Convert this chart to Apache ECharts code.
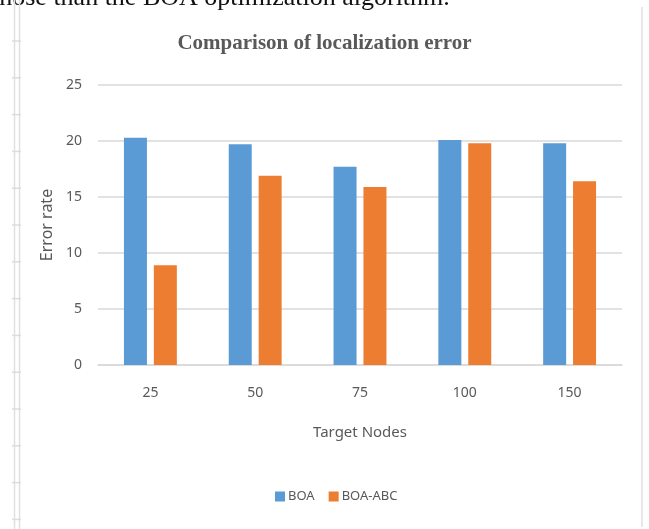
<!DOCTYPE html>
<html>
<head>
<meta charset="utf-8">
<script src="https://cdn.jsdelivr.net/npm/echarts@6/dist/echarts.min.js"></script>
<style>
    html, body { margin: 0; padding: 0; background: #fff; }
    #chart { width: 649px; height: 529px; }
</style>
</head>
<body>
<div id="chart"></div>
<script>
// 数据
const categories = ['25', '50', '75', '100', '150']
const boaValues = [20.3, 19.7, 17.7, 20.1, 19.8]
const boaAbcValues = [8.9, 16.9, 15.9, 19.8, 16.4]
const seriesNames = ['BOA', 'BOA-ABC']

const textGray = '#595959'
const gridGray = '#d9d9d9'
const sansFont = 'Noto Sans'

// 左侧页面标尺 (装饰)
const rulerMarks = []
for (let i = 0; i < 14; i++) {
    rulerMarks.push({
        type: 'line',
        shape: { x1: 12, y1: 41 + i * 36.8, x2: 21, y2: 41 + i * 36.8 },
        style: { stroke: '#dcdcdc', lineWidth: 1.5 }
    })
}

const chart = echarts.init(document.getElementById('chart'))

const option = {
    backgroundColor: '#fff',
    animation: false,
    title: {
        text: 'Comparison of localization error',
        left: 'center',
        top: 28,
        textStyle: {
            fontFamily: 'Liberation Serif',
            fontWeight: 'bold',
            fontSize: 21,
            color: textGray
        }
    },
    legend: {
        data: seriesNames,
        left: 270,
        top: 485,
        icon: 'rect',
        itemWidth: 10,
        itemHeight: 10,
        itemGap: 14,
        textStyle: { fontFamily: sansFont, fontSize: 13, color: textGray, padding: [0, 0, 0, -2] }
    },
    grid: {
        left: 98,
        right: 27,
        top: 85,
        bottom: 164
    },
    xAxis: {
        type: 'category',
        data: categories,
        name: 'Target Nodes',
        nameLocation: 'middle',
        nameGap: 60,
        nameTextStyle: { fontFamily: sansFont, fontSize: 15, color: textGray },
        axisLine: { lineStyle: { color: gridGray, width: 1.5 } },
        axisTick: { show: false },
        axisLabel: { margin: 21, fontFamily: sansFont, fontSize: 14, color: textGray }
    },
    yAxis: {
        type: 'value',
        min: 0,
        max: 25,
        interval: 5,
        name: 'Error rate',
        nameLocation: 'middle',
        nameGap: 42,
        nameTextStyle: { fontFamily: sansFont, fontSize: 16, color: textGray },
        axisLine: { show: false },
        axisTick: { show: false },
        axisLabel: { margin: 16, fontFamily: sansFont, fontSize: 14, color: textGray },
        splitLine: { lineStyle: { color: gridGray, width: 1.5 } }
    },
    series: [
        {
            name: seriesNames[0],
            type: 'bar',
            data: boaValues,
            barWidth: 23,
            barGap: '30%',
            itemStyle: { color: '#5b9bd5' }
        },
        {
            name: seriesNames[1],
            type: 'bar',
            data: boaAbcValues,
            barWidth: 23,
            barGap: '30%',
            itemStyle: { color: '#ed7d31' }
        }
    ],
    graphic: [
        // 上方被截断的正文
        {
            type: 'text',
            left: -8,
            top: -15,
            style: {
                text: 'those than the BOA optimization algorithm.',
                font: '26px "Liberation Serif"',
                fill: '#111'
            }
        },
        {
            type: 'line',
            shape: { x1: 14.5, y1: 0, x2: 14.5, y2: 529 },
            style: { stroke: '#e0e0e0', lineWidth: 1.5 }
        },
        {
            type: 'line',
            shape: { x1: 19.5, y1: 0, x2: 19.5, y2: 529 },
            style: { stroke: '#e0e0e0', lineWidth: 1.5 }
        },
        {
            type: 'line',
            shape: { x1: 642, y1: 7, x2: 642, y2: 527 },
            style: { stroke: '#e0e0e0', lineWidth: 1.5 }
        }
    ].concat(rulerMarks)
}

chart.setOption(option)
</script>
</body>
</html>
